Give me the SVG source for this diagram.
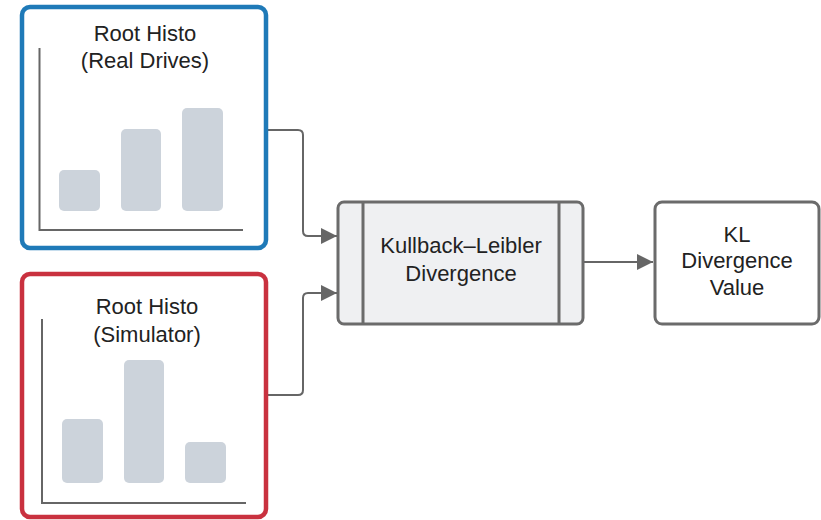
<svg xmlns="http://www.w3.org/2000/svg" width="821" height="520" viewBox="0 0 821 520">
<defs>
<style>
text{font-family:"Liberation Sans",Arial,sans-serif;font-size:22px;fill:#222;text-anchor:middle}
.bar{fill:#ccd3db}
.axis{stroke:#666;stroke-width:2;fill:none}
.conn{stroke:#666;stroke-width:2;fill:none}
.box{stroke:#6b6b6b;stroke-width:3}
</style>
<marker id="arrL" viewBox="0 0 16 16" refX="16" refY="8" markerWidth="16" markerHeight="16" orient="auto" markerUnits="userSpaceOnUse">
<path d="M0,0 L16,8 L0,16 z" fill="#666"/>
</marker>
</defs>
<rect width="821" height="520" fill="#fff"/>
<g id="connectors">
<path class="conn" d="M266,130 H298 Q303,130 303,135 V231 Q303,236 308,236 H337" marker-end="url(#arrL)"/>
<path class="conn" d="M266,395 H298 Q303,395 303,390 V298 Q303,293 308,293 H337" marker-end="url(#arrL)"/>
<path class="conn" d="M583,262 H653" marker-end="url(#arrL)"/>
</g>
<g id="hist-real">
<rect x="22" y="7" width="244" height="241" rx="8" fill="#fff" stroke="#1f7ab8" stroke-width="4.5"/>
<path class="axis" d="M39.5,48 V230 H243"/>
<rect class="bar" x="59" y="170" width="41" height="41" rx="5"/>
<rect class="bar" x="121" y="129" width="40" height="82" rx="5"/>
<rect class="bar" x="182" y="108" width="41" height="103" rx="5"/>
<text x="145" y="41">Root Histo</text>
<text x="145" y="68">(Real Drives)</text>
</g>
<g id="hist-sim">
<rect x="22" y="274" width="244" height="243" rx="8" fill="#fff" stroke="#c9313f" stroke-width="4.5"/>
<path class="axis" d="M42,319 V503 H246"/>
<rect class="bar" x="62" y="419" width="41" height="64" rx="5"/>
<rect class="bar" x="124" y="360" width="40" height="123" rx="5"/>
<rect class="bar" x="185" y="442" width="41" height="41" rx="5"/>
<text x="147" y="314">Root Histo</text>
<text x="147" y="342">(Simulator)</text>
</g>
<g id="kl-process">
<rect class="box" x="338" y="202" width="245" height="122" rx="6" fill="#eff0f2"/>
<line class="box" x1="363" y1="202" x2="363" y2="324"/>
<line class="box" x1="559" y1="202" x2="559" y2="324"/>
<text x="461" y="253">Kullback–Leibler</text>
<text x="461" y="281">Divergence</text>
</g>
<g id="kl-value">
<rect class="box" x="655" y="202" width="164" height="122" rx="7" fill="#fff"/>
<text x="737" y="242">KL</text>
<text x="737" y="268">Divergence</text>
<text x="737" y="295">Value</text>
</g>
</svg>
